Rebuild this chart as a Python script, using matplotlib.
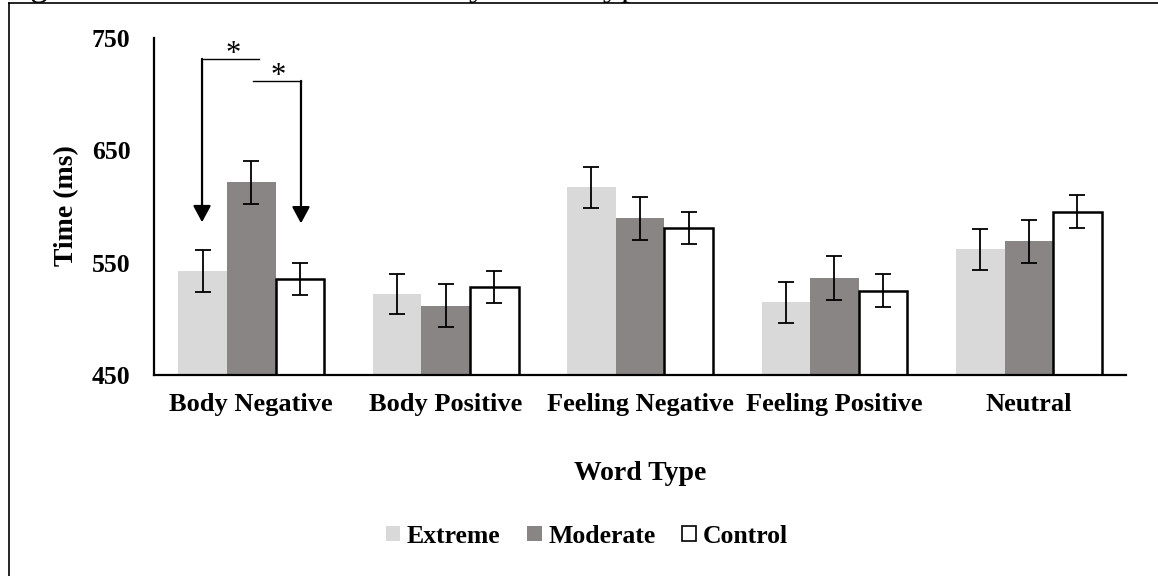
import matplotlib.pyplot as plt
import numpy as np
from matplotlib.lines import Line2D
from matplotlib.patches import Patch

word_types = ["Body Negative", "Body Positive", "Feeling Negative",
              "Feeling Positive", "Neutral"]
groups = ["Extreme", "Moderate", "Control"]

extreme_ms = [542.6, 521.9, 617.1, 514.7, 561.9]
moderate_ms = [621.6, 511.7, 589.5, 536.1, 569.0]
control_ms = [535.2, 528.4, 580.6, 525.1, 595.4]

extreme_err = [18.5, 18.0, 18.5, 18.4, 18.4]
moderate_err = [19.2, 19.3, 19.2, 19.5, 19.4]
control_err = [14.4, 14.5, 14.4, 14.4, 14.6]

y_ticks = [450, 550, 650, 750]

plt.rcParams["font.family"] = ["Liberation Serif", "DejaVu Serif"]
plt.rcParams["font.weight"] = "bold"


def plot_word_type_times(ax):
    '''
    Draws grouped bars of mean response time per word type with SE bars.
    '''

    # 1: Bar layout
    x = np.arange(len(word_types))
    width = 0.25
    series = [
        (extreme_ms, extreme_err, "#d9d9d9", "none"),
        (moderate_ms, moderate_err, "#898584", "none"),
        (control_ms, control_err, "white", "black"),
    ]

    # 2: Bars and error bars
    for i, (vals, errs, face, edge) in enumerate(series):
        pos = x + (i - 1) * width
        ax.bar(pos, np.array(vals) - 450, width, bottom=450, color=face,
               edgecolor=edge, linewidth=1.8 if edge != "none" else 0,
               zorder=2)
        ax.errorbar(pos, vals, yerr=errs, fmt="none", ecolor="black",
                    elinewidth=1.3, capsize=5.8, capthick=1.3, zorder=3)

    # 3: Axes styling
    ax.set_xlim(-0.5, len(word_types) - 0.5)
    ax.set_ylim(450, 750)
    ax.set_yticks(y_ticks)
    ax.set_yticklabels([str(t) for t in y_ticks], fontsize=18.5,
                       fontweight="bold")
    ax.set_xticks(x)
    ax.set_xticklabels(word_types, fontsize=19, fontweight="bold")
    ax.tick_params(axis="y", length=0, pad=17)
    ax.tick_params(axis="x", length=0, pad=13)
    for side in ["top", "right"]:
        ax.spines[side].set_visible(False)
    for side in ["left", "bottom"]:
        ax.spines[side].set_linewidth(1.6)
        ax.spines[side].set_color("black")

    # 4: Significance brackets for Body Negative
    arrow = dict(arrowstyle="-|>,head_length=0.5,head_width=0.27",
                 mutation_scale=20, lw=1.6, color="black",
                 shrinkA=0, shrinkB=0)
    ax.plot([-0.253, 0.040], [731.4, 731.4], color="black", lw=1.0)
    ax.annotate("", xy=(-0.253, 586.0), xytext=(-0.253, 731.4),
                arrowprops=arrow)
    ax.text(-0.094, 731.4 - 3.0, "*", ha="center", va="baseline",
            fontsize=22, fontweight="normal")
    ax.plot([0.009, 0.256], [711.8, 711.8], color="black", lw=1.0)
    ax.annotate("", xy=(0.256, 585.0), xytext=(0.256, 711.8),
                arrowprops=arrow)
    ax.text(0.138, 711.8 - 3.0, "*", ha="center", va="baseline",
            fontsize=22, fontweight="normal")


# 1: Figure and axes
fig = plt.figure(figsize=(11.58, 5.76), dpi=100)
ax = fig.add_axes([0.1330, 0.3490, 0.8394, 0.585])
plot_word_type_times(ax)

# 2: Axis titles
fig.text(67 / 1158, 1 - 206 / 576, "Time (ms)", rotation=90, ha="center",
         va="center", fontsize=20, fontweight="bold")
fig.text(640 / 1158, 1 - 480 / 576, "Word Type", ha="center",
         va="baseline", fontsize=20, fontweight="bold")

# 3: Legend
handles = [
    Patch(facecolor="#d9d9d9", edgecolor="none"),
    Patch(facecolor="#898584", edgecolor="none"),
    Patch(facecolor="white", edgecolor="black", linewidth=1.2),
]
fig.legend(handles, groups, loc="center", bbox_to_anchor=(0.507, 0.069),
           ncol=3, frameon=False, prop={"size": 18.5, "weight": "bold"},
           handlelength=0.55, handleheight=0.55, handletextpad=0.25,
           columnspacing=1.05)

# 4: Caption line above the frame and frame edges
fig.text(0, 1 + 5 / 576, "Figure 1. Mean Reaction Time by Word Type",
         ha="left", va="baseline", fontsize=26, fontweight="normal")
fig.add_artist(Line2D([8.5 / 1158, 8.5 / 1158], [0, 1 - 3 / 576],
                      transform=fig.transFigure, color="black", lw=1.2))
fig.add_artist(Line2D([8.5 / 1158, 1], [1 - 3 / 576, 1 - 3 / 576],
                      transform=fig.transFigure, color="black", lw=1.2))

fig.savefig("out.png", dpi=100)
plt.close(fig)
